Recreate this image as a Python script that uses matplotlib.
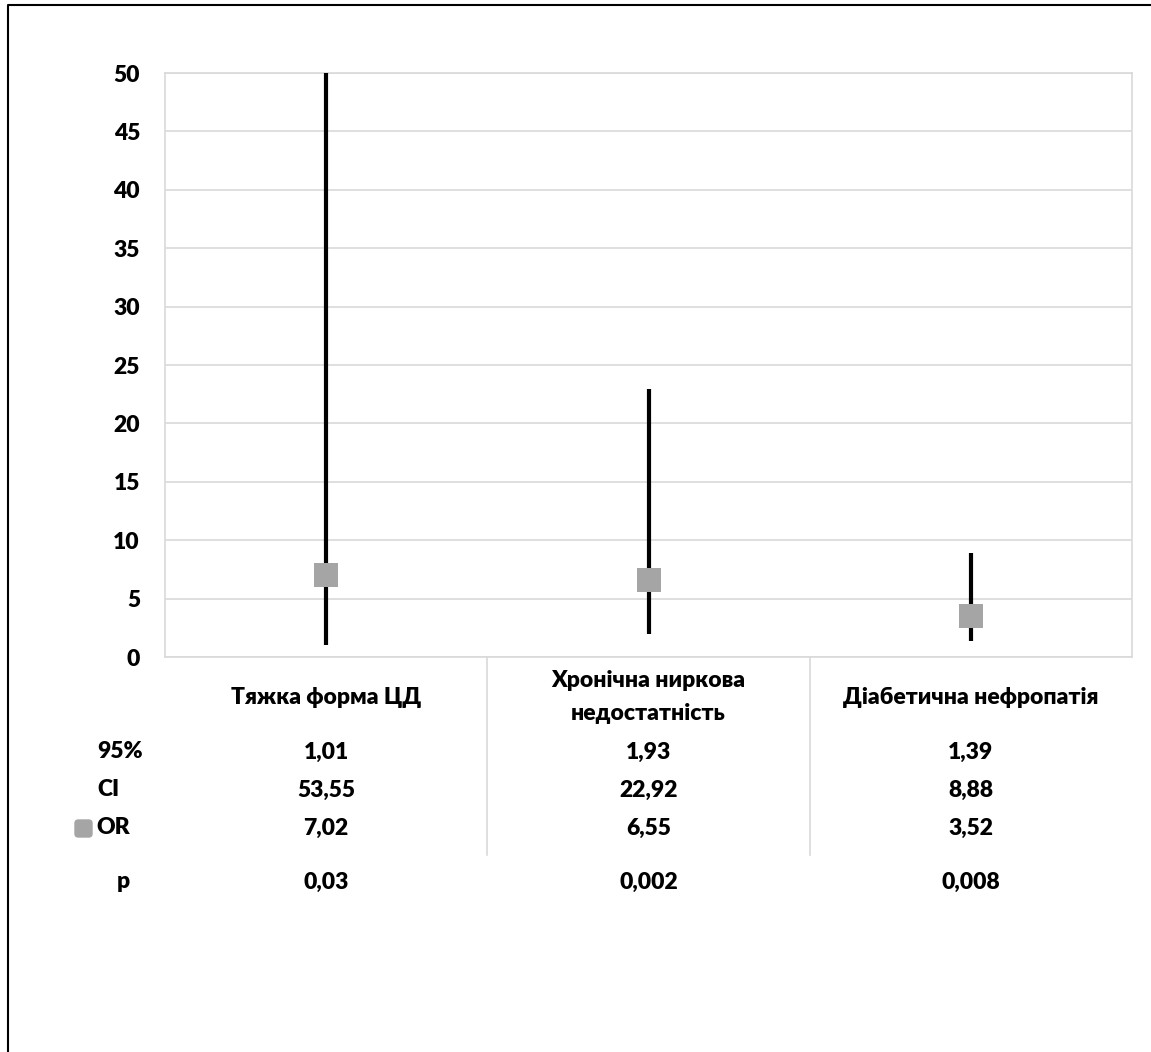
import matplotlib.pyplot as plt
import matplotlib.transforms as mtransforms
from matplotlib.patches import FancyBboxPatch
from matplotlib.lines import Line2D

plt.rcParams['font.family'] = ['Lato', 'DejaVu Sans']

categories = ['Тяжка форма ЦД', 'Хронічна ниркова\nнедостатність', 'Діабетична нефропатія']
ci_low = [1.01, 1.93, 1.39]
ci_high = [53.55, 22.92, 8.88]
odds = [7.02, 6.55, 3.52]
p_values = ['0,03', '0,002', '0,008']
yticks = list(range(0, 55, 5))

W, H = 1151, 1052
fig = plt.figure(figsize=(W / 100, H / 100), dpi=100)

def fy(py):
    return 1 - py / H

# outer chart border (only left and top visible)
fig.lines.append(Line2D([8 / W, 8 / W, 1], [0, fy(5), fy(5)], transform=fig.transFigure,
                        color='black', linewidth=1.5))

FS = 16.5
WT = 'heavy'

ax = fig.add_axes([165 / W, fy(657), (1132 - 165) / W, (657 - 73) / H])
ax.set_xlim(-0.5, 2.5)
ax.set_ylim(0, 50)
ax.set_yticks(yticks)
ax.set_yticklabels([str(t) for t in yticks], fontsize=FS, fontweight=WT)
ax.set_xticks([])
ax.tick_params(axis='y', length=0, pad=18)
ax.grid(axis='y', color='#D9D9D9', linewidth=1.2)
ax.set_axisbelow(True)
for s in ax.spines.values():
    s.set_color('#D9D9D9')
    s.set_linewidth(1.2)

xs = range(len(categories))
ax.vlines(xs, ci_low, ci_high, color='black', linewidth=3, zorder=3)
ax.scatter(xs, odds, marker='s', s=280, color='#A5A5A5', zorder=4, linewidths=0)

# data table below the plot
tr = mtransforms.blended_transform_factory(ax.transData, fig.transFigure)
for sep in [0.5, 1.5]:
    fig.lines.append(Line2D([sep, sep], [fy(657), fy(855)], transform=tr,
                            color='#D9D9D9', linewidth=1.2))

tk = dict(fontsize=FS, fontweight=WT, ha='center', va='center', transform=tr)
for i, cat in enumerate(categories):
    ax.text(i, fy(697), cat, linespacing=1.75, **tk)
    ax.text(i, fy(752), f'{ci_low[i]:.2f}'.replace('.', ','), **tk)
    ax.text(i, fy(790), f'{ci_high[i]:.2f}'.replace('.', ','), **tk)
    ax.text(i, fy(828), f'{odds[i]:.2f}'.replace('.', ','), **tk)
    ax.text(i, fy(882), p_values[i], **tk)

lk = dict(fontsize=FS, fontweight=WT, va='center', transform=fig.transFigure)
fig.text(97 / W, fy(752), '95%', **lk)
fig.text(97 / W, fy(790), 'CI', **lk)
fig.text(96 / W, fy(828), 'OR', **lk)
fig.text(117 / W, fy(882), 'p', **lk)
fig.patches.append(FancyBboxPatch((75 / W, fy(837)), 17 / W, 17 / H,
                                  boxstyle='round,pad=0,rounding_size=0.003',
                                  transform=fig.transFigure, color='#A5A5A5'))

fig.savefig('out.png', dpi=100)
